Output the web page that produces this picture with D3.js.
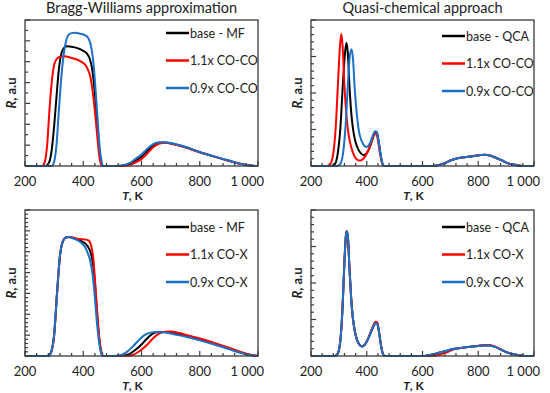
<!DOCTYPE html>
<html lang="en">
<head>
<meta charset="UTF-8" />
<title>BW vs QCA</title>
<script src="https://cdn.jsdelivr.net/npm/d3@7"></script>
<style>
  body { margin: 0; background: #fff; }
  text { font-family: Lato, "Open Sans", sans-serif; fill: #222; }
</style>
</head>
<body>
<svg id="fig" width="550" height="393"></svg>
<script>
// ---- data (T in K, R in arbitrary units) ----
// Bragg-Williams, CO-CO variation
const bwCO_base = [[200,0],[270,0],[280,0.1],[290,0.6],[300,1.9],[308,3.3],[316,4.6],[325,5.4],[335,5.68],[345,5.74],[360,5.72],[380,5.65],[400,5.52],[412,5.4],[422,5.15],[430,4.7],[437,3.9],[444,2.8],[450,1.7],[456,0.7],[462,0.1],[468,0],
  [520,0],[550,0.05],[580,0.25],[600,0.45],[620,0.72],[640,0.98],[660,1.12],[680,1.13],[700,1.08],[750,0.9],[800,0.66],[850,0.45],[900,0.25],[950,0.07],[980,0.01],[1000,0]];
const bwCO_11 = [[200,0],[258,0],[268,0.2],[276,1.0],[285,2.9],[294,4.3],[302,4.95],[312,5.18],[325,5.25],[336,5.26],[355,5.2],[376,5.12],[395,4.98],[405,4.88],[415,4.65],[424,4.3],[433,3.5],[440,2.6],[445,1.9],[451,1.0],[456,0.4],[462,0.05],[466,0],
  [530,0],[560,0.05],[580,0.18],[600,0.33],[620,0.6],[640,0.9],[660,1.07],[680,1.11],[700,1.08],[750,0.9],[800,0.66],[850,0.45],[900,0.25],[950,0.07],[980,0.01],[1000,0]];
const bwCO_09 = [[200,0],[292,0],[300,0.2],[308,1.0],[316,2.6],[325,4.3],[335,5.55],[343,6.1],[350,6.3],[360,6.37],[372,6.39],[390,6.34],[405,6.28],[416,6.16],[424,5.9],[430,5.5],[436,4.8],[442,3.7],[447,2.7],[452,1.7],[457,0.8],[462,0.3],[468,0],
  [500,0],[530,0.03],[560,0.15],[580,0.35],[600,0.55],[620,0.83],[640,1.05],[660,1.14],[680,1.14],[700,1.1],[750,0.92],[800,0.67],[850,0.46],[900,0.26],[950,0.07],[980,0.01],[1000,0]];

// Quasi-chemical, CO-CO variation
const qcaHigh = [[640,0],[660,0.03],[680,0.08],[700,0.15],[720,0.2],[750,0.24],[780,0.27],[800,0.29],[822,0.31],[845,0.28],[865,0.22],[885,0.15],[905,0.08],[925,0.04],[950,0.01],[970,0],[1000,0]];
const qcaCO_base = [[200,0],[270,0],[285,0.05],[295,0.3],[305,1.0],[314,2.2],[321,3.0],[327,3.38],[332,3.1],[338,2.2],[345,1.4],[352,0.95],[360,0.65],[370,0.45],[380,0.34],[390,0.3],[400,0.35],[410,0.5],[420,0.72],[430,0.92],[436,0.92],[443,0.65],[450,0.3],[456,0.08],[463,0],...qcaHigh];
const qcaCO_11 = [[200,0],[255,0],[268,0.05],[279,0.3],[289,1.1],[297,2.3],[304,3.3],[309,3.62],[314,3.2],[320,2.2],[327,1.4],[335,0.85],[345,0.5],[355,0.28],[365,0.18],[375,0.15],[385,0.18],[395,0.27],[405,0.42],[415,0.63],[425,0.84],[432,0.9],[439,0.75],[446,0.42],[453,0.13],[461,0],...qcaHigh];
const qcaCO_09 = [[200,0],[290,0],[304,0.05],[314,0.3],[324,1.1],[332,2.2],[339,3.0],[346,3.2],[351,2.9],[357,2.1],[364,1.45],[372,0.95],[382,0.68],[392,0.55],[400,0.52],[410,0.6],[420,0.8],[430,0.95],[436,0.94],[443,0.66],[450,0.3],[456,0.08],[463,0],...qcaHigh];

// Bragg-Williams, CO-X variation
const bwX_base = [[200,0],[280,0],[290,0.2],[300,1.0],[310,3.0],[320,4.8],[330,5.5],[340,5.68],[350,5.7],[365,5.66],[380,5.58],[395,5.5],[410,5.35],[420,5.15],[430,4.7],[437,4.0],[443,2.9],[450,1.6],[456,0.7],[462,0.2],[468,0],
  [520,0],[550,0.05],[575,0.25],[600,0.55],[620,0.85],[640,1.08],[660,1.15],[690,1.15],[720,1.06],[760,0.93],[800,0.79],[850,0.59],[900,0.36],[940,0.17],[970,0.06],[1000,0]];
const bwX_11 = [[200,0],[280,0],[290,0.2],[300,1.0],[310,3.0],[320,4.8],[330,5.5],[340,5.68],[350,5.7],[365,5.68],[380,5.62],[395,5.6],[410,5.58],[420,5.52],[428,5.25],[435,4.6],[440,3.7],[445,2.7],[452,1.3],[458,0.5],[464,0.1],[470,0],
  [545,0],[570,0.05],[595,0.25],[620,0.55],[640,0.85],[660,1.07],[680,1.16],[700,1.17],[730,1.1],[760,0.98],[800,0.84],[850,0.63],[900,0.4],[940,0.2],[970,0.07],[1000,0]];
const bwX_09 = [[200,0],[280,0],[290,0.2],[300,1.0],[310,3.0],[320,4.8],[330,5.5],[340,5.68],[350,5.7],[365,5.64],[380,5.55],[395,5.4],[405,5.25],[415,4.95],[425,4.5],[432,3.9],[440,2.8],[447,1.6],[454,0.7],[460,0.2],[467,0],
  [500,0],[530,0.05],[550,0.2],[570,0.45],[590,0.75],[610,1.0],[630,1.12],[650,1.15],[680,1.13],[720,1.02],[760,0.9],[800,0.75],[850,0.55],[900,0.33],[940,0.15],[970,0.05],[1000,0]];

// Quasi-chemical, CO-X variation
const qcaLowX = [[200,0],[285,0],[295,0.05],[305,0.4],[313,1.3],[320,2.6],[326,3.35],[329,3.42],[333,3.2],[338,2.4],[344,1.6],[350,1.05],[358,0.65],[366,0.42],[375,0.3],[383,0.26],[392,0.3],[402,0.42],[412,0.6],[422,0.78],[432,0.9],[438,0.88],[445,0.6],[452,0.25],[458,0.06],[465,0]];
const qcaX_base = [...qcaLowX,[600,0],[620,0.02],[650,0.07],[680,0.13],[710,0.19],[750,0.23],[790,0.27],[820,0.29],[840,0.29],[860,0.25],[880,0.18],[900,0.11],[920,0.06],[950,0.02],[975,0],[1000,0]];
const qcaX_11 = [[200,0],[285,0],[295,0.05],[305,0.4],[313,1.3],[320,2.6],[326,3.35],[329,3.42],[333,3.2],[338,2.4],[344,1.6],[350,1.05],[358,0.65],[366,0.42],[375,0.3],[383,0.26],[392,0.3],[402,0.43],[412,0.62],[422,0.81],[432,0.94],[438,0.92],[445,0.62],[452,0.26],[458,0.06],[465,0],
  [630,0],[650,0.02],[670,0.06],[690,0.11],[710,0.18],[750,0.23],[790,0.27],[820,0.3],[840,0.3],[860,0.26],[880,0.18],[900,0.11],[920,0.06],[950,0.02],[975,0],[1000,0]];
const qcaX_09 = [...qcaLowX,[600,0],[620,0.02],[650,0.07],[680,0.13],[710,0.19],[750,0.23],[790,0.27],[820,0.29],[840,0.29],[860,0.25],[880,0.18],[900,0.11],[920,0.06],[950,0.02],[975,0],[1000,0]];

const xTicks = [200, 400, 600, 800, 1000];
const colors = ["#000000", "#ff0000", "#1a72c8"];

const panels = [
  { x0: 25,  x1: 258, y0: 20,  y1: 166, ymax: 7, minor: 0.5, title: "Bragg-Williams approximation",
    names: ["base - MF", "1.1x CO-CO", "0.9x CO-CO"], series: [bwCO_base, bwCO_11, bwCO_09], legY: 33 },
  { x0: 311, x1: 534, y0: 20,  y1: 166, ymax: 4, minor: 0.2, title: "Quasi-chemical approach",
    names: ["base - QCA", "1.1x CO-CO", "0.9x CO-CO"], series: [qcaCO_base, qcaCO_11, qcaCO_09], legY: 36 },
  { x0: 25,  x1: 258, y0: 210, y1: 356, ymax: 7, minor: 0.2, title: null,
    names: ["base - MF", "1.1x CO-X", "0.9x CO-X"], series: [bwX_base, bwX_11, bwX_09], legY: 227 },
  { x0: 311, x1: 534, y0: 210, y1: 356, ymax: 4, minor: 0.2, title: null,
    names: ["base - QCA", "1.1x CO-X", "0.9x CO-X"], series: [qcaX_base, qcaX_11, qcaX_09], legY: 227 }
];

const svg = d3.select("#fig");

panels.forEach(function (p) {
  const x = d3.scaleLinear().domain([200, 1000]).range([p.x0, p.x1]);
  const y = d3.scaleLinear().domain([0, p.ymax]).range([p.y1, p.y0]);
  const g = svg.append("g");

  // curves
  const line = d3.line().x(d => x(d[0])).y(d => y(d[1])).curve(d3.curveMonotoneX);
  p.series.forEach(function (s, i) {
    g.append("path").attr("d", line(s)).attr("fill", "none")
      .attr("stroke", colors[i]).attr("stroke-width", 2).attr("stroke-linejoin", "round");
  });

  // frame
  g.append("rect").attr("x", p.x0).attr("y", p.y0)
    .attr("width", p.x1 - p.x0).attr("height", p.y1 - p.y0)
    .attr("fill", "none").attr("stroke", "#3a3a3a").attr("stroke-width", 1.3);

  // x ticks (inside)
  const xMinor = d3.range(200, 1001, 40);
  g.selectAll(null).data(xMinor).join("line")
    .attr("x1", d => x(d)).attr("x2", d => x(d))
    .attr("y1", p.y1).attr("y2", d => p.y1 - (d % 200 === 0 ? 5 : 3))
    .attr("stroke", "#3a3a3a").attr("stroke-width", 1.2);
  g.selectAll(null).data(xTicks).join("text")
    .attr("x", d => d === 1000 ? p.x1 + 6 : x(d))
    .attr("y", p.y1 + 19.5)
    .attr("text-anchor", d => d === 1000 ? "end" : "middle")
    .attr("font-size", 13)
    .text(d => d === 1000 ? "1 000" : d);

  // y ticks (inside)
  const yMinor = d3.range(0, p.ymax + 1e-6, p.minor);
  g.selectAll(null).data(yMinor).join("line")
    .attr("x1", p.x0).attr("x2", d => p.x0 + (Math.abs(d - Math.round(d)) < 1e-6 ? 5 : 3))
    .attr("y1", d => y(d)).attr("y2", d => y(d))
    .attr("stroke", "#3a3a3a").attr("stroke-width", 1.2);

  // axis labels
  const xl = g.append("text").attr("x", (p.x0 + p.x1) / 2 - 9).attr("y", p.y1 + 34)
    .attr("text-anchor", "middle").attr("font-size", 12).attr("font-weight", "bold");
  xl.append("tspan").attr("font-style", "italic").text("T");
  xl.append("tspan").text(", K");

  const cy = (p.y0 + p.y1) / 2;
  const yl = g.append("text").attr("transform", `translate(${p.x0 - 9},${cy}) rotate(-90)`)
    .attr("text-anchor", "middle").attr("font-size", 13).attr("font-weight", "bold");
  yl.append("tspan").attr("font-style", "italic").text("R");
  yl.append("tspan").text(", a.u");

  // title
  if (p.title) {
    g.append("text").attr("x", (p.x0 + p.x1) / 2).attr("y", 13)
      .attr("text-anchor", "middle").attr("font-size", 14.5).text(p.title);
  }

  // legend
  const lx = p.x1 - 92;
  p.names.forEach(function (n, i) {
    const ly = p.legY + i * 27.5;
    g.append("line").attr("x1", lx).attr("x2", lx + 23).attr("y1", ly).attr("y2", ly)
      .attr("stroke", colors[i]).attr("stroke-width", 2.5);
    g.append("text").attr("x", lx + 24).attr("y", ly + 4.5).attr("font-size", 12.5).text(n);
  });
});
</script>
</body>
</html>
